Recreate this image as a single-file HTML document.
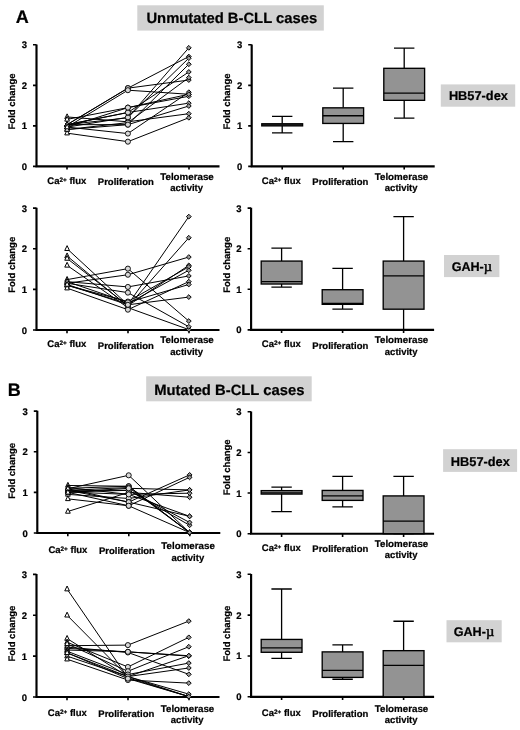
<!DOCTYPE html>
<html lang="en">
<head>
<meta charset="utf-8">
<title>B-CLL fold change figure</title>
<style>
html,body{margin:0;padding:0;background:#fff;}
body{width:520px;height:730px;overflow:hidden;}
svg{display:block;will-change:transform;}
text{font-family:"Liberation Sans", Arial, Helvetica, sans-serif;font-weight:bold;fill:#000;stroke:#000;stroke-width:0.22px;text-rendering:geometricPrecision;}
.t{font-size:9.5px;}
.yl{font-size:9.5px;}
.xl{font-size:9.5px;}
.tri{fill:#fff;stroke:#000;stroke-width:1;}
.cir{fill:#d8d8d8;stroke:#000;stroke-width:0.9;}
.dia{fill:#999;stroke:#000;stroke-width:1;}
</style>
</head>
<body>
<svg width="520" height="730" viewBox="0 0 520 730">
<rect width="520" height="730" fill="#fff"/>
<path d="M36.5 44.4V166.4H219.5" fill="none" stroke="#000" stroke-width="2.15"/>
<path d="M33 166.4H36.5M33 125.87H36.5M33 85.33H36.5M33 44.8H36.5M67 166.4V169.6M128 166.4V169.6M189 166.4V169.6" fill="none" stroke="#000" stroke-width="1.6"/>
<text x="27" y="169.9" text-anchor="end" class="t">0</text>
<text x="27" y="129.37" text-anchor="end" class="t">1</text>
<text x="27" y="88.83" text-anchor="end" class="t">2</text>
<text x="27" y="48.3" text-anchor="end" class="t">3</text>
<text transform="translate(15 101.5) rotate(-90)" text-anchor="middle" class="yl">Fold change</text>
<text x="66.8" y="183.6" text-anchor="middle" class="xl">Ca<tspan dy="-2.1" style="font-size:6.4px">2+</tspan><tspan dy="2.1"> flux</tspan></text>
<text x="125.8" y="184.8" text-anchor="middle" class="xl">Proliferation</text>
<text x="187" y="179.5" text-anchor="middle" class="xl" style="font-size:9.75px">Telomerase</text>
<text x="186.7" y="191.2" text-anchor="middle" class="xl">activity</text>
<path d="M251.7 44.4V166.4H434.7" fill="none" stroke="#000" stroke-width="2.15"/>
<path d="M248.2 166.4H251.7M248.2 125.87H251.7M248.2 85.33H251.7M248.2 44.8H251.7M282.2 166.4V169.6M343.2 166.4V169.6M404.2 166.4V169.6" fill="none" stroke="#000" stroke-width="1.6"/>
<text x="242.2" y="169.9" text-anchor="end" class="t">0</text>
<text x="242.2" y="129.37" text-anchor="end" class="t">1</text>
<text x="242.2" y="88.83" text-anchor="end" class="t">2</text>
<text x="242.2" y="48.3" text-anchor="end" class="t">3</text>
<text transform="translate(229.5 101.5) rotate(-90)" text-anchor="middle" class="yl">Fold change</text>
<text x="281.3" y="183.6" text-anchor="middle" class="xl">Ca<tspan dy="-2.1" style="font-size:6.4px">2+</tspan><tspan dy="2.1"> flux</tspan></text>
<text x="340.3" y="184.8" text-anchor="middle" class="xl">Proliferation</text>
<text x="401.5" y="179.5" text-anchor="middle" class="xl" style="font-size:9.75px">Telomerase</text>
<text x="401.2" y="191.2" text-anchor="middle" class="xl">activity</text>
<path d="M282.2 116.46V123.76M282.2 125.87V132.96M272 116.46H292.4M272 132.96H292.4" fill="none" stroke="#000" stroke-width="1.3"/>
<rect x="261.8" y="123.76" width="40.8" height="2.11" fill="#939393" stroke="#000" stroke-width="1.35"/>
<path d="M261.8 124.85H302.6" stroke="#000" stroke-width="1.3"/>
<path d="M343.2 88.17V107.83M343.2 123.43V141.67M333 88.17H353.4M333 141.67H353.4" fill="none" stroke="#000" stroke-width="1.3"/>
<rect x="322.8" y="107.83" width="40.8" height="15.61" fill="#939393" stroke="#000" stroke-width="1.35"/>
<path d="M322.8 115.73H363.6" stroke="#000" stroke-width="1.3"/>
<path d="M404.2 48.04V68.31M404.2 100.33V118.17M394 48.04H414.4M394 118.17H414.4" fill="none" stroke="#000" stroke-width="1.3"/>
<rect x="383.8" y="68.31" width="40.8" height="32.02" fill="#939393" stroke="#000" stroke-width="1.35"/>
<path d="M383.8 93.03H424.6" stroke="#000" stroke-width="1.3"/>
<path d="M67.1 124.65L127.9 88.17L188.8 56.55M67.1 124.65L127.9 88.17L188.8 80.06M67.1 127.08L127.9 90.2L188.8 94.25M67.1 133.16L127.9 141.67L188.8 117.76M67.1 127.08L127.9 133.57L188.8 92.22M67.1 116.95L127.9 121.81L188.8 113.71M67.1 124.65L127.9 117.76L188.8 47.84M67.1 127.08L127.9 117.35L188.8 58.18M67.1 124.65L127.9 124.65L188.8 64.26M67.1 124.65L127.9 112.49L188.8 71.96M67.1 129.51L127.9 122.62L188.8 77.63M67.1 119.38L127.9 107.63L188.8 96.28M67.1 124.65L127.9 112.49L188.8 103.17M67.1 129.51L127.9 124.65L188.8 106.01M67.1 127.08L127.9 107.63L188.8 94.25" fill="none" stroke="#000" stroke-width="1" stroke-linejoin="round"/>
<path d="M67.1 121.55L69.45 126.4H64.75Z" class="tri"/>
<path d="M67.1 121.55L69.45 126.4H64.75Z" class="tri"/>
<path d="M67.1 123.98L69.45 128.83H64.75Z" class="tri"/>
<path d="M67.1 130.06L69.45 134.91H64.75Z" class="tri"/>
<path d="M67.1 123.98L69.45 128.83H64.75Z" class="tri"/>
<path d="M67.1 113.85L69.45 118.7H64.75Z" class="tri"/>
<path d="M67.1 121.55L69.45 126.4H64.75Z" class="tri"/>
<path d="M67.1 123.98L69.45 128.83H64.75Z" class="tri"/>
<path d="M67.1 121.55L69.45 126.4H64.75Z" class="tri"/>
<path d="M67.1 121.55L69.45 126.4H64.75Z" class="tri"/>
<path d="M67.1 126.41L69.45 131.26H64.75Z" class="tri"/>
<path d="M67.1 116.28L69.45 121.13H64.75Z" class="tri"/>
<path d="M67.1 121.55L69.45 126.4H64.75Z" class="tri"/>
<path d="M67.1 126.41L69.45 131.26H64.75Z" class="tri"/>
<path d="M67.1 123.98L69.45 128.83H64.75Z" class="tri"/>
<circle cx="127.9" cy="88.17" r="2.55" class="cir"/>
<circle cx="127.9" cy="88.17" r="2.55" class="cir"/>
<circle cx="127.9" cy="90.2" r="2.55" class="cir"/>
<circle cx="127.9" cy="141.67" r="2.55" class="cir"/>
<circle cx="127.9" cy="133.57" r="2.55" class="cir"/>
<circle cx="127.9" cy="121.81" r="2.55" class="cir"/>
<circle cx="127.9" cy="117.76" r="2.55" class="cir"/>
<circle cx="127.9" cy="117.35" r="2.55" class="cir"/>
<circle cx="127.9" cy="124.65" r="2.55" class="cir"/>
<circle cx="127.9" cy="112.49" r="2.55" class="cir"/>
<circle cx="127.9" cy="122.62" r="2.55" class="cir"/>
<circle cx="127.9" cy="107.63" r="2.55" class="cir"/>
<circle cx="127.9" cy="112.49" r="2.55" class="cir"/>
<circle cx="127.9" cy="124.65" r="2.55" class="cir"/>
<circle cx="127.9" cy="107.63" r="2.55" class="cir"/>
<path d="M188.8 54.15L191.2 56.55L188.8 58.95L186.4 56.55Z" class="dia"/>
<path d="M188.8 77.66L191.2 80.06L188.8 82.46L186.4 80.06Z" class="dia"/>
<path d="M188.8 91.85L191.2 94.25L188.8 96.65L186.4 94.25Z" class="dia"/>
<path d="M188.8 115.36L191.2 117.76L188.8 120.16L186.4 117.76Z" class="dia"/>
<path d="M188.8 89.82L191.2 92.22L188.8 94.62L186.4 92.22Z" class="dia"/>
<path d="M188.8 111.31L191.2 113.71L188.8 116.11L186.4 113.71Z" class="dia"/>
<path d="M188.8 45.44L191.2 47.84L188.8 50.24L186.4 47.84Z" class="dia"/>
<path d="M188.8 55.78L191.2 58.18L188.8 60.58L186.4 58.18Z" class="dia"/>
<path d="M188.8 61.86L191.2 64.26L188.8 66.66L186.4 64.26Z" class="dia"/>
<path d="M188.8 69.56L191.2 71.96L188.8 74.36L186.4 71.96Z" class="dia"/>
<path d="M188.8 75.23L191.2 77.63L188.8 80.03L186.4 77.63Z" class="dia"/>
<path d="M188.8 93.88L191.2 96.28L188.8 98.68L186.4 96.28Z" class="dia"/>
<path d="M188.8 100.77L191.2 103.17L188.8 105.57L186.4 103.17Z" class="dia"/>
<path d="M188.8 103.61L191.2 106.01L188.8 108.41L186.4 106.01Z" class="dia"/>
<path d="M188.8 91.85L191.2 94.25L188.8 96.65L186.4 94.25Z" class="dia"/>
<path d="M36.5 207.7V330H219.5" fill="none" stroke="#000" stroke-width="2.15"/>
<path d="M33 330H36.5M33 289.37H36.5M33 248.73H36.5M33 208.1H36.5M67 330V333.2M128 330V333.2M189 330V333.2" fill="none" stroke="#000" stroke-width="1.6"/>
<text x="27" y="333.5" text-anchor="end" class="t">0</text>
<text x="27" y="292.87" text-anchor="end" class="t">1</text>
<text x="27" y="252.23" text-anchor="end" class="t">2</text>
<text x="27" y="211.6" text-anchor="end" class="t">3</text>
<text transform="translate(15 264.8) rotate(-90)" text-anchor="middle" class="yl">Fold change</text>
<text x="66.8" y="347.4" text-anchor="middle" class="xl">Ca<tspan dy="-2.1" style="font-size:6.4px">2+</tspan><tspan dy="2.1"> flux</tspan></text>
<text x="125.8" y="348.6" text-anchor="middle" class="xl">Proliferation</text>
<text x="187" y="343.3" text-anchor="middle" class="xl" style="font-size:9.75px">Telomerase</text>
<text x="186.7" y="355" text-anchor="middle" class="xl">activity</text>
<path d="M251.1 207.7V329.9H434.1" fill="none" stroke="#000" stroke-width="2.15"/>
<path d="M247.6 329.9H251.1M247.6 289.3H251.1M247.6 248.7H251.1M247.6 208.1H251.1M281.6 329.9V333.1M342.6 329.9V333.1M403.6 329.9V333.1" fill="none" stroke="#000" stroke-width="1.6"/>
<text x="241.6" y="333.4" text-anchor="end" class="t">0</text>
<text x="241.6" y="292.8" text-anchor="end" class="t">1</text>
<text x="241.6" y="252.2" text-anchor="end" class="t">2</text>
<text x="241.6" y="211.6" text-anchor="end" class="t">3</text>
<text transform="translate(229.5 264.8) rotate(-90)" text-anchor="middle" class="yl">Fold change</text>
<text x="281.3" y="347.4" text-anchor="middle" class="xl">Ca<tspan dy="-2.1" style="font-size:6.4px">2+</tspan><tspan dy="2.1"> flux</tspan></text>
<text x="340.3" y="348.6" text-anchor="middle" class="xl">Proliferation</text>
<text x="401.5" y="343.3" text-anchor="middle" class="xl" style="font-size:9.75px">Telomerase</text>
<text x="401.2" y="355" text-anchor="middle" class="xl">activity</text>
<path d="M281.6 248.09V261.08M281.6 284.02V287.07M271.4 248.09H291.8M271.4 287.07H291.8" fill="none" stroke="#000" stroke-width="1.3"/>
<rect x="261.2" y="261.08" width="40.8" height="22.94" fill="#939393" stroke="#000" stroke-width="1.35"/>
<path d="M261.2 281.59H302" stroke="#000" stroke-width="1.3"/>
<path d="M342.6 268.39V289.71M342.6 304.32V309.19M332.4 268.39H352.8M332.4 309.19H352.8" fill="none" stroke="#000" stroke-width="1.3"/>
<rect x="322.2" y="289.71" width="40.8" height="14.62" fill="#939393" stroke="#000" stroke-width="1.35"/>
<path d="M322.2 303.31H363" stroke="#000" stroke-width="1.3"/>
<path d="M403.6 216.63V261.08M403.6 309.19V329.9M393.4 216.63H413.8M393.4 329.9H413.8" fill="none" stroke="#000" stroke-width="1.3"/>
<rect x="383.2" y="261.08" width="40.8" height="48.11" fill="#939393" stroke="#000" stroke-width="1.35"/>
<path d="M383.2 275.9H424" stroke="#000" stroke-width="1.3"/>
<path d="M67.1 248.73L127.9 304.81L188.8 216.63M67.1 256.05L127.9 306.43L188.8 237.76M67.1 258.49L127.9 305.62L188.8 265.39M67.1 265.39L127.9 307.65L188.8 329.59M67.1 279.61L127.9 268.64L188.8 321.06M67.1 283.27L127.9 274.74L188.8 257.06M67.1 281.65L127.9 286.93L188.8 275.96M67.1 283.27L127.9 292.62L188.8 326.75M67.1 285.3L127.9 301.56L188.8 266.82M67.1 285.3L127.9 303.59L188.8 270.27M67.1 288.15L127.9 309.68L188.8 281.65M67.1 281.65L127.9 302.37L188.8 284.49M67.1 284.49L127.9 304.81L188.8 297.09" fill="none" stroke="#000" stroke-width="1" stroke-linejoin="round"/>
<path d="M67.1 245.63L69.45 250.48H64.75Z" class="tri"/>
<path d="M67.1 252.95L69.45 257.8H64.75Z" class="tri"/>
<path d="M67.1 255.39L69.45 260.24H64.75Z" class="tri"/>
<path d="M67.1 262.29L69.45 267.14H64.75Z" class="tri"/>
<path d="M67.1 276.51L69.45 281.36H64.75Z" class="tri"/>
<path d="M67.1 280.17L69.45 285.02H64.75Z" class="tri"/>
<path d="M67.1 278.55L69.45 283.4H64.75Z" class="tri"/>
<path d="M67.1 280.17L69.45 285.02H64.75Z" class="tri"/>
<path d="M67.1 282.2L69.45 287.05H64.75Z" class="tri"/>
<path d="M67.1 282.2L69.45 287.05H64.75Z" class="tri"/>
<path d="M67.1 285.05L69.45 289.9H64.75Z" class="tri"/>
<path d="M67.1 278.55L69.45 283.4H64.75Z" class="tri"/>
<path d="M67.1 281.39L69.45 286.24H64.75Z" class="tri"/>
<circle cx="127.9" cy="304.81" r="2.55" class="cir"/>
<circle cx="127.9" cy="306.43" r="2.55" class="cir"/>
<circle cx="127.9" cy="305.62" r="2.55" class="cir"/>
<circle cx="127.9" cy="307.65" r="2.55" class="cir"/>
<circle cx="127.9" cy="268.64" r="2.55" class="cir"/>
<circle cx="127.9" cy="274.74" r="2.55" class="cir"/>
<circle cx="127.9" cy="286.93" r="2.55" class="cir"/>
<circle cx="127.9" cy="292.62" r="2.55" class="cir"/>
<circle cx="127.9" cy="301.56" r="2.55" class="cir"/>
<circle cx="127.9" cy="303.59" r="2.55" class="cir"/>
<circle cx="127.9" cy="309.68" r="2.55" class="cir"/>
<circle cx="127.9" cy="302.37" r="2.55" class="cir"/>
<circle cx="127.9" cy="304.81" r="2.55" class="cir"/>
<path d="M188.8 214.23L191.2 216.63L188.8 219.03L186.4 216.63Z" class="dia"/>
<path d="M188.8 235.36L191.2 237.76L188.8 240.16L186.4 237.76Z" class="dia"/>
<path d="M188.8 262.99L191.2 265.39L188.8 267.79L186.4 265.39Z" class="dia"/>
<path d="M188.8 327.19L191.2 329.59L188.8 331.99L186.4 329.59Z" class="dia"/>
<path d="M188.8 318.66L191.2 321.06L188.8 323.46L186.4 321.06Z" class="dia"/>
<path d="M188.8 254.66L191.2 257.06L188.8 259.46L186.4 257.06Z" class="dia"/>
<path d="M188.8 273.56L191.2 275.96L188.8 278.36L186.4 275.96Z" class="dia"/>
<path d="M188.8 324.35L191.2 326.75L188.8 329.15L186.4 326.75Z" class="dia"/>
<path d="M188.8 264.42L191.2 266.82L188.8 269.22L186.4 266.82Z" class="dia"/>
<path d="M188.8 267.87L191.2 270.27L188.8 272.67L186.4 270.27Z" class="dia"/>
<path d="M188.8 279.25L191.2 281.65L188.8 284.05L186.4 281.65Z" class="dia"/>
<path d="M188.8 282.09L191.2 284.49L188.8 286.89L186.4 284.49Z" class="dia"/>
<path d="M188.8 294.69L191.2 297.09L188.8 299.49L186.4 297.09Z" class="dia"/>
<path d="M37.3 410.7V533H220.3" fill="none" stroke="#000" stroke-width="2.15"/>
<path d="M33.8 533H37.3M33.8 492.37H37.3M33.8 451.73H37.3M33.8 411.1H37.3M67.8 533V536.2M128.8 533V536.2M189.8 533V536.2" fill="none" stroke="#000" stroke-width="1.6"/>
<text x="27.8" y="536.5" text-anchor="end" class="t">0</text>
<text x="27.8" y="495.87" text-anchor="end" class="t">1</text>
<text x="27.8" y="455.23" text-anchor="end" class="t">2</text>
<text x="27.8" y="414.6" text-anchor="end" class="t">3</text>
<text transform="translate(15 470.9) rotate(-90)" text-anchor="middle" class="yl">Fold change</text>
<text x="67.9" y="553.1" text-anchor="middle" class="xl">Ca<tspan dy="-2.1" style="font-size:6.4px">2+</tspan><tspan dy="2.1"> flux</tspan></text>
<text x="126.9" y="554.3" text-anchor="middle" class="xl">Proliferation</text>
<text x="188.1" y="549" text-anchor="middle" class="xl" style="font-size:9.75px">Telomerase</text>
<text x="187.8" y="560.7" text-anchor="middle" class="xl">activity</text>
<path d="M251.1 411.4V533.7H434.1" fill="none" stroke="#000" stroke-width="2.15"/>
<path d="M247.6 533.7H251.1M247.6 493.07H251.1M247.6 452.43H251.1M247.6 411.8H251.1M281.6 533.7V536.9M342.6 533.7V536.9M403.6 533.7V536.9" fill="none" stroke="#000" stroke-width="1.6"/>
<text x="241.6" y="537.2" text-anchor="end" class="t">0</text>
<text x="241.6" y="496.57" text-anchor="end" class="t">1</text>
<text x="241.6" y="455.93" text-anchor="end" class="t">2</text>
<text x="241.6" y="415.3" text-anchor="end" class="t">3</text>
<text transform="translate(229.5 467.4) rotate(-90)" text-anchor="middle" class="yl">Fold change</text>
<text x="281.3" y="550.8" text-anchor="middle" class="xl">Ca<tspan dy="-2.1" style="font-size:6.4px">2+</tspan><tspan dy="2.1"> flux</tspan></text>
<text x="340.3" y="552" text-anchor="middle" class="xl">Proliferation</text>
<text x="401.5" y="546.7" text-anchor="middle" class="xl" style="font-size:9.75px">Telomerase</text>
<text x="401.2" y="558.4" text-anchor="middle" class="xl">activity</text>
<path d="M281.6 487.05V490.63M281.6 494.08V511.55M271.4 487.05H291.8M271.4 511.55H291.8" fill="none" stroke="#000" stroke-width="1.3"/>
<rect x="261.2" y="490.63" width="40.8" height="3.45" fill="#939393" stroke="#000" stroke-width="1.35"/>
<path d="M261.2 492.86H302" stroke="#000" stroke-width="1.3"/>
<path d="M342.6 476.41V490.43M342.6 500.38V506.88M332.4 476.41H352.8M332.4 506.88H352.8" fill="none" stroke="#000" stroke-width="1.3"/>
<rect x="322.2" y="490.43" width="40.8" height="9.96" fill="#939393" stroke="#000" stroke-width="1.35"/>
<path d="M322.2 495.91H363" stroke="#000" stroke-width="1.3"/>
<path d="M403.6 476.41V495.91M403.6 533.7V533.7M393.4 476.41H413.8M393.4 533.7H413.8" fill="none" stroke="#000" stroke-width="1.3"/>
<rect x="383.2" y="495.91" width="40.8" height="37.79" fill="#939393" stroke="#000" stroke-width="1.35"/>
<path d="M383.2 521.1H424" stroke="#000" stroke-width="1.3"/>
<path d="M67.9 488.71L128.7 475.3L189.6 532.59M67.9 511.46L128.7 492.37L189.6 497.24M67.9 485.46L128.7 486.27L189.6 532.59M67.9 488.3L128.7 486.27L189.6 532.59M67.9 490.34L128.7 487.49L189.6 532.59M67.9 490.34L128.7 490.34L189.6 525.28M67.9 491.96L128.7 490.34L189.6 522.44M67.9 491.96L128.7 494.4L189.6 516.34M67.9 494.4L128.7 498.46L189.6 489.93M67.9 490.34L128.7 502.12L189.6 474.89M67.9 498.87L128.7 505.78L189.6 477.33M67.9 487.49L128.7 494.4L189.6 493.18M67.9 492.37L128.7 488.3L189.6 489.93M67.9 488.71L128.7 502.12L189.6 516.34M67.9 492.37L128.7 505.78L189.6 532.59" fill="none" stroke="#000" stroke-width="1" stroke-linejoin="round"/>
<path d="M67.9 485.61L70.25 490.46H65.55Z" class="tri"/>
<path d="M67.9 508.36L70.25 513.21H65.55Z" class="tri"/>
<path d="M67.9 482.36L70.25 487.21H65.55Z" class="tri"/>
<path d="M67.9 485.2L70.25 490.05H65.55Z" class="tri"/>
<path d="M67.9 487.24L70.25 492.09H65.55Z" class="tri"/>
<path d="M67.9 487.24L70.25 492.09H65.55Z" class="tri"/>
<path d="M67.9 488.86L70.25 493.71H65.55Z" class="tri"/>
<path d="M67.9 488.86L70.25 493.71H65.55Z" class="tri"/>
<path d="M67.9 491.3L70.25 496.15H65.55Z" class="tri"/>
<path d="M67.9 487.24L70.25 492.09H65.55Z" class="tri"/>
<path d="M67.9 495.77L70.25 500.62H65.55Z" class="tri"/>
<path d="M67.9 484.39L70.25 489.24H65.55Z" class="tri"/>
<path d="M67.9 489.27L70.25 494.12H65.55Z" class="tri"/>
<path d="M67.9 485.61L70.25 490.46H65.55Z" class="tri"/>
<path d="M67.9 489.27L70.25 494.12H65.55Z" class="tri"/>
<circle cx="128.7" cy="475.3" r="2.55" class="cir"/>
<circle cx="128.7" cy="492.37" r="2.55" class="cir"/>
<circle cx="128.7" cy="486.27" r="2.55" class="cir"/>
<circle cx="128.7" cy="486.27" r="2.55" class="cir"/>
<circle cx="128.7" cy="487.49" r="2.55" class="cir"/>
<circle cx="128.7" cy="490.34" r="2.55" class="cir"/>
<circle cx="128.7" cy="490.34" r="2.55" class="cir"/>
<circle cx="128.7" cy="494.4" r="2.55" class="cir"/>
<circle cx="128.7" cy="498.46" r="2.55" class="cir"/>
<circle cx="128.7" cy="502.12" r="2.55" class="cir"/>
<circle cx="128.7" cy="505.78" r="2.55" class="cir"/>
<circle cx="128.7" cy="494.4" r="2.55" class="cir"/>
<circle cx="128.7" cy="488.3" r="2.55" class="cir"/>
<circle cx="128.7" cy="502.12" r="2.55" class="cir"/>
<circle cx="128.7" cy="505.78" r="2.55" class="cir"/>
<path d="M189.6 530.19L192 532.59L189.6 534.99L187.2 532.59Z" class="dia"/>
<path d="M189.6 494.84L192 497.24L189.6 499.64L187.2 497.24Z" class="dia"/>
<path d="M189.6 530.19L192 532.59L189.6 534.99L187.2 532.59Z" class="dia"/>
<path d="M189.6 530.19L192 532.59L189.6 534.99L187.2 532.59Z" class="dia"/>
<path d="M189.6 530.19L192 532.59L189.6 534.99L187.2 532.59Z" class="dia"/>
<path d="M189.6 522.88L192 525.28L189.6 527.68L187.2 525.28Z" class="dia"/>
<path d="M189.6 520.04L192 522.44L189.6 524.84L187.2 522.44Z" class="dia"/>
<path d="M189.6 513.94L192 516.34L189.6 518.74L187.2 516.34Z" class="dia"/>
<path d="M189.6 487.53L192 489.93L189.6 492.33L187.2 489.93Z" class="dia"/>
<path d="M189.6 472.49L192 474.89L189.6 477.29L187.2 474.89Z" class="dia"/>
<path d="M189.6 474.93L192 477.33L189.6 479.73L187.2 477.33Z" class="dia"/>
<path d="M189.6 490.78L192 493.18L189.6 495.58L187.2 493.18Z" class="dia"/>
<path d="M189.6 487.53L192 489.93L189.6 492.33L187.2 489.93Z" class="dia"/>
<path d="M189.6 513.94L192 516.34L189.6 518.74L187.2 516.34Z" class="dia"/>
<path d="M189.6 530.19L192 532.59L189.6 534.99L187.2 532.59Z" class="dia"/>
<path d="M36.5 574V697H219.5" fill="none" stroke="#000" stroke-width="2.15"/>
<path d="M33 697H36.5M33 656.13H36.5M33 615.27H36.5M33 574.4H36.5M67 697V700.2M128 697V700.2M189 697V700.2" fill="none" stroke="#000" stroke-width="1.6"/>
<text x="27" y="700.5" text-anchor="end" class="t">0</text>
<text x="27" y="659.63" text-anchor="end" class="t">1</text>
<text x="27" y="618.77" text-anchor="end" class="t">2</text>
<text x="27" y="577.9" text-anchor="end" class="t">3</text>
<text transform="translate(15 633.6) rotate(-90)" text-anchor="middle" class="yl">Fold change</text>
<text x="67.3" y="715.8" text-anchor="middle" class="xl">Ca<tspan dy="-2.1" style="font-size:6.4px">2+</tspan><tspan dy="2.1"> flux</tspan></text>
<text x="126.3" y="717" text-anchor="middle" class="xl">Proliferation</text>
<text x="187.5" y="711.7" text-anchor="middle" class="xl" style="font-size:9.75px">Telomerase</text>
<text x="187.2" y="723.4" text-anchor="middle" class="xl">activity</text>
<path d="M251.1 573.9V696.8H434.1" fill="none" stroke="#000" stroke-width="2.15"/>
<path d="M247.6 696.8H251.1M247.6 655.97H251.1M247.6 615.13H251.1M247.6 574.3H251.1M281.6 696.8V700M342.6 696.8V700M403.6 696.8V700" fill="none" stroke="#000" stroke-width="1.6"/>
<text x="241.6" y="700.3" text-anchor="end" class="t">0</text>
<text x="241.6" y="659.47" text-anchor="end" class="t">1</text>
<text x="241.6" y="618.63" text-anchor="end" class="t">2</text>
<text x="241.6" y="577.8" text-anchor="end" class="t">3</text>
<text transform="translate(229.5 633.6) rotate(-90)" text-anchor="middle" class="yl">Fold change</text>
<text x="281.3" y="715.8" text-anchor="middle" class="xl">Ca<tspan dy="-2.1" style="font-size:6.4px">2+</tspan><tspan dy="2.1"> flux</tspan></text>
<text x="340.3" y="717" text-anchor="middle" class="xl">Proliferation</text>
<text x="401.5" y="711.7" text-anchor="middle" class="xl" style="font-size:9.75px">Telomerase</text>
<text x="401.2" y="723.4" text-anchor="middle" class="xl">activity</text>
<path d="M281.6 589V639.43M281.6 652.29V658.42M271.4 589H291.8M271.4 658.42H291.8" fill="none" stroke="#000" stroke-width="1.3"/>
<rect x="261.2" y="639.43" width="40.8" height="12.86" fill="#939393" stroke="#000" stroke-width="1.35"/>
<path d="M261.2 647.8H302" stroke="#000" stroke-width="1.3"/>
<path d="M342.6 644.94V651.88M342.6 677.4V679.24M332.4 644.94H352.8M332.4 679.24H352.8" fill="none" stroke="#000" stroke-width="1.3"/>
<rect x="322.2" y="651.88" width="40.8" height="25.52" fill="#939393" stroke="#000" stroke-width="1.35"/>
<path d="M322.2 670.46H363" stroke="#000" stroke-width="1.3"/>
<path d="M403.6 621.26V650.66M403.6 696.8V696.8M393.4 621.26H413.8M393.4 696.8H413.8" fill="none" stroke="#000" stroke-width="1.3"/>
<rect x="383.2" y="650.66" width="40.8" height="46.14" fill="#939393" stroke="#000" stroke-width="1.35"/>
<path d="M383.2 665.36H424" stroke="#000" stroke-width="1.3"/>
<path d="M67.1 589.11L127.9 677.79L188.8 696.59M67.1 615.27L127.9 676.57L188.8 696.59M67.1 638.56L127.9 676.57L188.8 694.14M67.1 645.71L127.9 645.1L188.8 621.11M67.1 648.37L127.9 651.84L188.8 655.72M67.1 647.14L127.9 652.46L188.8 674.32M67.1 650L127.9 651.84L188.8 656.13M67.1 642.24L127.9 666.96L188.8 637.33M67.1 643.87L127.9 671.25L188.8 646.73M67.1 652.86L127.9 676.57L188.8 655.72M67.1 651.23L127.9 674.52L188.8 663.08M67.1 656.13L127.9 676.57L188.8 667.98M67.1 659.2L127.9 680.04L188.8 683.11M67.1 652.86L127.9 678.61L188.8 696.59" fill="none" stroke="#000" stroke-width="1" stroke-linejoin="round"/>
<path d="M67.1 586.01L69.45 590.86H64.75Z" class="tri"/>
<path d="M67.1 612.17L69.45 617.02H64.75Z" class="tri"/>
<path d="M67.1 635.46L69.45 640.31H64.75Z" class="tri"/>
<path d="M67.1 642.61L69.45 647.46H64.75Z" class="tri"/>
<path d="M67.1 645.27L69.45 650.12H64.75Z" class="tri"/>
<path d="M67.1 644.04L69.45 648.89H64.75Z" class="tri"/>
<path d="M67.1 646.9L69.45 651.75H64.75Z" class="tri"/>
<path d="M67.1 639.14L69.45 643.99H64.75Z" class="tri"/>
<path d="M67.1 640.77L69.45 645.62H64.75Z" class="tri"/>
<path d="M67.1 649.76L69.45 654.61H64.75Z" class="tri"/>
<path d="M67.1 648.13L69.45 652.98H64.75Z" class="tri"/>
<path d="M67.1 653.03L69.45 657.88H64.75Z" class="tri"/>
<path d="M67.1 656.1L69.45 660.95H64.75Z" class="tri"/>
<path d="M67.1 649.76L69.45 654.61H64.75Z" class="tri"/>
<circle cx="127.9" cy="677.79" r="2.55" class="cir"/>
<circle cx="127.9" cy="676.57" r="2.55" class="cir"/>
<circle cx="127.9" cy="676.57" r="2.55" class="cir"/>
<circle cx="127.9" cy="645.1" r="2.55" class="cir"/>
<circle cx="127.9" cy="651.84" r="2.55" class="cir"/>
<circle cx="127.9" cy="652.46" r="2.55" class="cir"/>
<circle cx="127.9" cy="651.84" r="2.55" class="cir"/>
<circle cx="127.9" cy="666.96" r="2.55" class="cir"/>
<circle cx="127.9" cy="671.25" r="2.55" class="cir"/>
<circle cx="127.9" cy="676.57" r="2.55" class="cir"/>
<circle cx="127.9" cy="674.52" r="2.55" class="cir"/>
<circle cx="127.9" cy="676.57" r="2.55" class="cir"/>
<circle cx="127.9" cy="680.04" r="2.55" class="cir"/>
<circle cx="127.9" cy="678.61" r="2.55" class="cir"/>
<path d="M188.8 694.19L191.2 696.59L188.8 698.99L186.4 696.59Z" class="dia"/>
<path d="M188.8 694.19L191.2 696.59L188.8 698.99L186.4 696.59Z" class="dia"/>
<path d="M188.8 691.74L191.2 694.14L188.8 696.54L186.4 694.14Z" class="dia"/>
<path d="M188.8 618.71L191.2 621.11L188.8 623.51L186.4 621.11Z" class="dia"/>
<path d="M188.8 653.32L191.2 655.72L188.8 658.12L186.4 655.72Z" class="dia"/>
<path d="M188.8 671.92L191.2 674.32L188.8 676.72L186.4 674.32Z" class="dia"/>
<path d="M188.8 653.73L191.2 656.13L188.8 658.53L186.4 656.13Z" class="dia"/>
<path d="M188.8 634.93L191.2 637.33L188.8 639.73L186.4 637.33Z" class="dia"/>
<path d="M188.8 644.33L191.2 646.73L188.8 649.13L186.4 646.73Z" class="dia"/>
<path d="M188.8 653.32L191.2 655.72L188.8 658.12L186.4 655.72Z" class="dia"/>
<path d="M188.8 660.68L191.2 663.08L188.8 665.48L186.4 663.08Z" class="dia"/>
<path d="M188.8 665.58L191.2 667.98L188.8 670.38L186.4 667.98Z" class="dia"/>
<path d="M188.8 680.71L191.2 683.11L188.8 685.51L186.4 683.11Z" class="dia"/>
<path d="M188.8 694.19L191.2 696.59L188.8 698.99L186.4 696.59Z" class="dia"/>
<rect x="137.3" y="5.3" width="186.5" height="25.3" fill="#d2d2d2"/>
<text x="231.8" y="23" text-anchor="middle" font-size="14.8" class="b">Unmutated B-CLL cases</text>
<rect x="146.2" y="376.3" width="165.5" height="25" fill="#d2d2d2"/>
<text x="229.3" y="394.5" text-anchor="middle" font-size="14.8" class="b">Mutated B-CLL cases</text>
<rect x="440.8" y="84.4" width="74.4" height="22.3" fill="#d2d2d2"/>
<text x="478.4" y="100.4" text-anchor="middle" font-size="12.8" class="b">HB57-dex</text>
<rect x="444" y="255" width="55.4" height="22.1" fill="#d2d2d2"/>
<text x="471.9" y="271.3" text-anchor="middle" font-size="12.6" class="b">GAH-<tspan style="font-family:'Liberation Serif','DejaVu Serif',serif;font-size:14.5px;font-weight:normal;stroke-width:0.45px">µ</tspan></text>
<rect x="443.1" y="449.2" width="74" height="22.7" fill="#d2d2d2"/>
<text x="480.3" y="465.6" text-anchor="middle" font-size="12.8" class="b">HB57-dex</text>
<rect x="446.5" y="620.2" width="55.2" height="22.1" fill="#d2d2d2"/>
<text x="474" y="636.2" text-anchor="middle" font-size="12.6" class="b">GAH-<tspan style="font-family:'Liberation Serif','DejaVu Serif',serif;font-size:14.5px;font-weight:normal;stroke-width:0.45px">µ</tspan></text>
<text x="15.8" y="22.7" font-size="18" class="b">A</text>
<text x="7.7" y="395.9" font-size="18" class="b">B</text>
</svg>
</body>
</html>
